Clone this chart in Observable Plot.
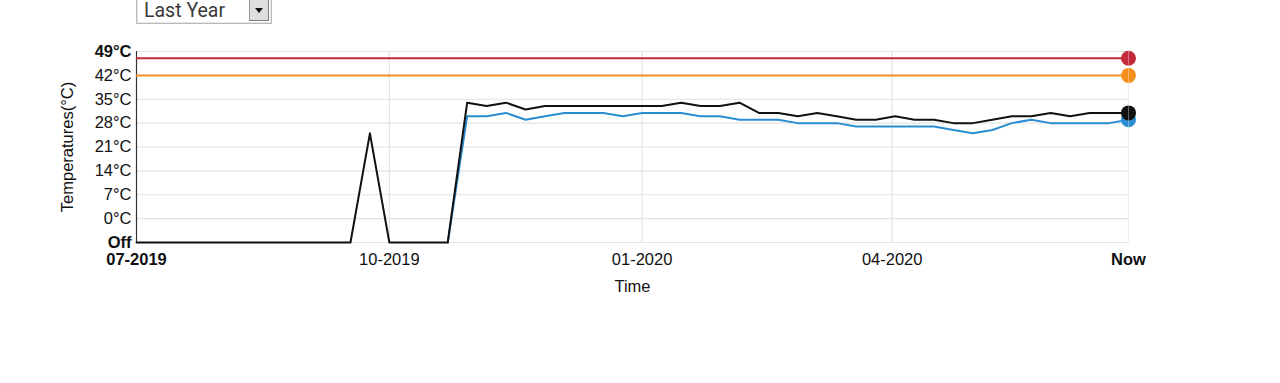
<!DOCTYPE html>
<html>
<head>
<meta charset="utf-8">
<script src="https://cdn.jsdelivr.net/npm/d3@7"></script>
<script src="https://cdn.jsdelivr.net/npm/@observablehq/plot@0.6"></script>
<style>
  html, body { margin: 0; padding: 0; background: #fff; }
  #wrap { position: relative; width: 1280px; height: 383px; overflow: hidden; }
  #select {
    position: absolute; left: 136px; top: -12px; width: 136px; height: 36px;
    border: 1px solid #b9b9b9; box-shadow: inset 0 0 0 1px #e6e6e6;
    background: #fff; box-sizing: border-box;
    font-family: Roboto, "Open Sans", sans-serif; font-size: 19.5px; color: #3a3a3a;
  }
  #select .txt { position: absolute; left: 7px; top: 12px; line-height: 20px; }
  #select .btn {
    position: absolute; right: 2px; top: 2px; width: 20px; height: 30px;
    background: #dedede; border-left: 1px solid #9a9a9a; border-bottom: 1px solid #7a7a7a;
    border-right: 1px solid #7a7a7a; box-sizing: border-box;
  }
  #select .btn::after {
    content: ""; position: absolute; left: 5px; top: 17px;
    border-left: 4px solid transparent; border-right: 4px solid transparent; border-top: 5px solid #111;
  }
  #chart { position: absolute; left: 0; top: 0; }
</style>
</head>
<body>
<div id="wrap">
  <div id="chart"></div>
  <div id="select"><span class="txt">Last Year</span><span class="btn"></span></div>
</div>
<script>
// ---- data ----
const OFF = -7;
const startDate = new Date(Date.UTC(2019, 6, 1));
const nowDate = new Date(Date.UTC(2020, 5, 26));
const stepMs = (nowDate - startDate) / 51;
const times = d3.range(52).map(i => new Date(startDate.getTime() + i * stepMs));

const blackValues = [
  -7, -7, -7, -7, -7, -7, -7, -7, -7, -7, -7, -7,
  25, -7, -7, -7, -7,
  34, 33, 34, 32, 33, 33, 33, 33, 33, 33, 33, 34, 33, 33, 34,
  31, 31, 30, 31, 30, 29, 29, 30, 29, 29, 28, 28, 29, 30, 30, 31, 30, 31, 31, 31
];
const blueValues = [
  null, null, null, null, null, null, null, null, null, null, null, null,
  null, null, null, null, -7,
  30, 30, 31, 29, 30, 31, 31, 31, 30, 31, 31, 31, 30, 30, 29,
  29, 29, 28, 28, 28, 27, 27, 27, 27, 27, 26, 25, 26, 28, 29, 28, 28, 28, 28, 29
];
const redLimit = 47;
const orangeLimit = 42;

const yTicks = [0, 7, 14, 21, 28, 35, 42];
const yBoldTicks = [OFF, 49];
const xTicks = [new Date(Date.UTC(2019, 9, 1)), new Date(Date.UTC(2020, 0, 1)), new Date(Date.UTC(2020, 3, 1))];
const xTickLabels = ["10-2019", "01-2020", "04-2020"];
const xBoldTicks = [startDate, nowDate];
const xBoldLabels = ["07-2019", "Now"];

const colors = { red: "#c52a3c", orange: "#f5901e", blue: "#2a8dd2", black: "#111111" };

const black = times.map((t, i) => ({ t, v: blackValues[i] }));
const blue = times.map((t, i) => ({ t, v: blueValues[i] }));

const font = "'Liberation Sans', Arial, Helvetica, sans-serif";
const fs = 16.5;

const chart = Plot.plot({
  width: 1280,
  height: 383,
  marginTop: 51,
  marginBottom: 141,
  marginLeft: 136,
  marginRight: 152,
  style: { fontFamily: font, fontSize: fs + "px", color: "#111", background: "#fff" },
  x: { type: "utc", domain: [startDate, nowDate] },
  y: { domain: [OFF, 49] },
  marks: [
    Plot.ruleY([OFF, ...yTicks, 49], { stroke: "#e3e3e3", strokeWidth: 1.2 }),
    Plot.ruleX([...xTicks, nowDate], { stroke: "#e3e3e3", strokeWidth: 1.2 }),
    Plot.ruleX([startDate], { y1: OFF, y2: 49, stroke: "#333", strokeWidth: 1.2 }),
    Plot.axisY(yTicks, { anchor: "left", tickSize: 0, tickPadding: 5, tickFormat: d => `${d}°C`, fontSize: fs, label: null }),
    Plot.axisY(yBoldTicks, { anchor: "left", tickSize: 0, tickPadding: 5, tickFormat: d => d === OFF ? "Off" : `${d}°C`, fontSize: fs, fontWeight: "bold", label: null }),
    Plot.axisX(xTicks, { anchor: "bottom", tickSize: 0, tickPadding: 11, tickFormat: (d, i) => xTickLabels[i], fontSize: fs, label: null }),
    Plot.axisX(xBoldTicks, { anchor: "bottom", tickSize: 0, tickPadding: 11, tickFormat: (d, i) => xBoldLabels[i], fontSize: fs, fontWeight: "bold", label: null }),
    Plot.text(["Time"], { frameAnchor: "bottom", dy: 49, fontSize: fs, textAnchor: "middle" }),
    Plot.text(["Temperatures(°C)"], { frameAnchor: "left", dx: -69, rotate: -90, fontSize: fs, textAnchor: "middle" }),
    Plot.ruleY([redLimit], { stroke: colors.red, strokeWidth: 2 }),
    Plot.ruleY([orangeLimit], { stroke: colors.orange, strokeWidth: 2 }),
    Plot.line(blue, { x: "t", y: "v", stroke: colors.blue, strokeWidth: 2, defined: d => d.v != null }),
    Plot.line(black, { x: "t", y: "v", stroke: colors.black, strokeWidth: 2 }),
    Plot.dot([redLimit], { x: () => nowDate, y: d => d, r: 7.5, fill: colors.red }),
    Plot.dot([orangeLimit], { x: () => nowDate, y: d => d, r: 7.5, fill: colors.orange }),
    Plot.dot(blue.slice(-1), { x: "t", y: "v", r: 7.5, fill: colors.blue }),
    Plot.dot(black.slice(-1), { x: "t", y: "v", r: 7.5, fill: colors.black }),
    Plot.ruleX([nowDate], { stroke: "#ffffff", strokeOpacity: 0.35, strokeWidth: 1 })
  ]
});
document.getElementById("chart").appendChild(chart);
</script>
</body>
</html>
